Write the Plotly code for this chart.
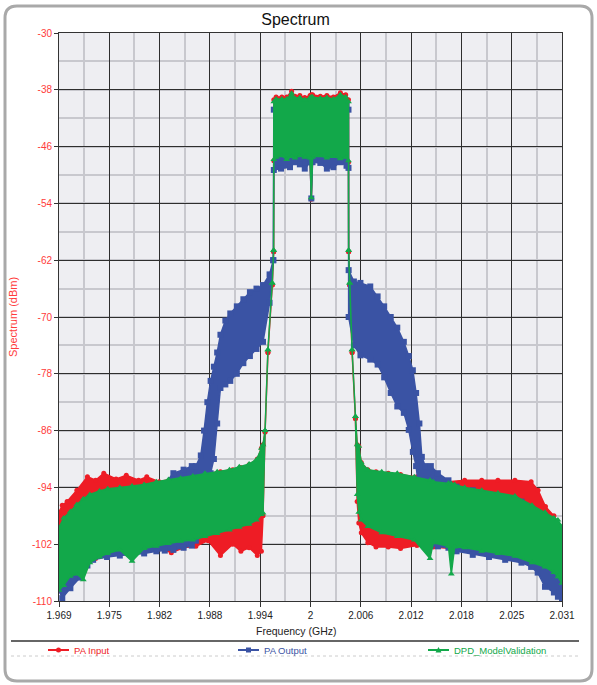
import plotly.graph_objects as go

# ---------------- data ----------------
x_tick_labels = ["1.969", "1.975", "1.982", "1.988", "1.994", "2",
                 "2.006", "2.012", "2.018", "2.025", "2.031"]
y_tick_values = [-30, -38, -46, -54, -62, -70, -78, -86, -94, -102, -110]
freq_center = 2.0          # GHz
freq_span = 0.06144        # GHz

# PA Input (red): frequency, upper envelope, lower envelope (dBm)
pa_input_freq = [1.96928, 1.96968, 1.97027, 1.97146, 1.97275, 1.97375, 1.97475, 1.97625, 1.9775, 1.9790,
                 1.9800, 1.9815, 1.9830, 1.9845, 1.9860, 1.9875, 1.9890, 1.9905, 1.9915, 1.9925,
                 1.9935, 1.9940, 1.9942, 1.99445, 1.9948, 1.99533, 1.9955, 1.99552, 1.9958, 1.9965,
                 1.9971, 1.99769, 1.9981, 1.9987, 1.9993, 1.99995, 2.0001, 2.00025, 2.0012, 2.0020,
                 2.0028, 2.00365, 2.0043, 2.00464, 2.00466, 2.00478, 2.00508, 2.00549, 2.0057, 2.0059,
                 2.0062, 2.0070, 2.0080, 2.0095, 2.0110, 2.0130, 2.0150, 2.01685, 2.01883, 2.02091,
                 2.02289, 2.02497, 2.02695, 2.0278, 2.0287, 2.02973, 2.0303, 2.03072]
pa_input_high = [-97.5, -96.5, -96.0, -94.4, -92.5, -93.0, -92.0, -92.8, -92.3, -93.0,
                 -92.5, -93.2, -92.8, -92.5, -92.3, -92.0, -91.8, -91.5, -91.2, -90.8,
                 -90.0, -88.5, -88.0, -86.2, -75.0, -65.5, -60.8, -39.4, -39.0, -39.0,
                 -39.0, -38.2, -38.9, -38.8, -39.1, -38.8, -38.7, -38.7, -38.9, -38.8,
                 -39.0, -38.4, -38.7, -39.4, -60.8, -65.5, -75.0, -84.3, -88.0, -88.2,
                 -90.5, -91.5, -91.8, -92.0, -92.2, -92.5, -93.0, -93.2, -93.0, -93.0,
                 -93.0, -93.0, -93.2, -94.4, -96.7, -98.0, -99.5, -100.0]
pa_input_low = [-107.5, -106.5, -105.5, -105.0, -104.5, -104.0, -103.5, -103.0, -103.0, -102.8,
                -102.5, -102.5, -103.2, -102.5, -102.3, -101.5, -103.6, -102.0, -103.0, -102.5,
                -103.6, -103.0, -98.0, -86.2, -75.0, -65.5, -60.8, -48.0, -47.8, -47.6,
                -48.0, -47.7, -47.9, -47.6, -47.8, -47.9, -53.4, -47.8, -47.6, -47.9,
                -47.7, -48.0, -47.8, -48.2, -60.8, -65.5, -75.0, -84.3, -96.0, -99.0,
                -100.4, -101.8, -102.4, -102.4, -102.6, -102.2, -102.4, -102.5, -102.8, -103.0,
                -103.2, -103.5, -104.0, -104.5, -105.0, -105.5, -106.0, -106.5]

# PA Output (blue)
pa_output_freq = [1.96928, 1.96968, 1.97067, 1.97185, 1.97275, 1.97345, 1.97515, 1.97671, 1.9782, 1.97968,
                  1.98117, 1.9822, 1.98325, 1.9845, 1.9855, 1.9860, 1.9866, 1.9870, 1.9874, 1.9878,
                  1.9882, 1.9886, 1.9890, 1.9896, 1.9902, 1.9910, 1.9918, 1.9926, 1.9934, 1.9942,
                  1.9950, 1.99545, 1.99552, 1.9964, 1.9975, 1.9981, 1.9987, 1.9993, 1.99995, 2.0001,
                  2.00025, 2.0012, 2.0020, 2.0028, 2.00365, 2.0044, 2.00464, 2.00466, 2.0053, 2.0061,
                  2.0073, 2.0082, 2.0090, 2.0098, 2.0106, 2.0114, 2.0120, 2.0125, 2.0129, 2.0133,
                  2.0136, 2.0140, 2.0147, 2.01556, 2.01685, 2.01784, 2.01982, 2.0218, 2.02378, 2.02577,
                  2.02695, 2.02775, 2.02864, 2.02973, 2.03022, 2.03072]
pa_output_high = [-101.0, -100.5, -99.0, -97.5, -96.5, -96.0, -95.5, -95.0, -94.5, -94.2,
                  -94.4, -93.5, -92.0, -91.5, -91.0, -91.0, -89.5, -86.0, -82.0, -79.0,
                  -77.0, -75.0, -72.5, -70.5, -69.5, -68.5, -67.5, -66.5, -66.0, -65.5,
                  -64.0, -62.0, -40.8, -40.5, -40.3, -40.2, -40.3, -40.4, -40.2, -40.2,
                  -40.2, -40.3, -40.2, -40.3, -40.0, -40.2, -40.8, -63.4, -65.0, -65.2,
                  -65.7, -67.1, -68.5, -70.0, -71.5, -73.5, -75.5, -77.5, -80.7, -85.0,
                  -89.7, -91.0, -91.0, -92.0, -93.0, -93.9, -94.4, -95.0, -95.5, -96.0,
                  -97.0, -97.5, -98.0, -99.0, -99.5, -100.0]
pa_output_low = [-108.5, -109.6, -108.2, -106.7, -105.0, -104.2, -103.8, -103.6, -103.5, -103.3,
                 -103.0, -102.9, -102.8, -102.5, -102.2, -101.5, -100.5, -98.0, -95.0, -92.0,
                 -90.0, -85.0, -80.0, -79.5, -79.0, -78.0, -76.5, -75.5, -74.5, -73.5,
                 -68.0, -62.0, -49.3, -49.1, -48.9, -48.2, -48.5, -49.1, -48.2, -53.3,
                 -48.2, -48.3, -49.1, -48.9, -48.2, -48.7, -49.0, -70.0, -74.0, -75.4,
                 -76.0, -76.7, -78.5, -80.7, -82.6, -83.5, -85.9, -89.0, -91.0, -95.0,
                 -99.0, -101.5, -102.2, -102.3, -102.5, -103.0, -103.5, -103.8, -104.2, -104.6,
                 -105.2, -106.0, -108.0, -108.8, -109.4, -109.9]

# DPD_ModelValidation (green)
dpd_freq = [1.96928, 1.96985, 1.97067, 1.97146, 1.97225, 1.97305, 1.97423, 1.97523, 1.97671, 1.9782,
            1.97968, 1.98117, 1.98265, 1.98414, 1.98563, 1.98711, 1.9886, 1.9901, 1.9913, 1.9925,
            1.9934, 1.9940, 1.9942, 1.99445, 1.9948, 1.99533, 1.9955, 1.99552, 1.9958, 1.9965,
            1.9971, 1.99769, 1.9981, 1.9987, 1.9993, 1.99995, 2.0001, 2.00025, 2.0012, 2.0020,
            2.0028, 2.00365, 2.0043, 2.00464, 2.00466, 2.00478, 2.00508, 2.00549, 2.0057, 2.0059,
            2.0062, 2.0070, 2.0087, 2.0106, 2.01268, 2.0146, 2.0150, 2.01685, 2.0172, 2.0176,
            2.01883, 2.02091, 2.02289, 2.02497, 2.02705, 2.02864, 2.02973, 2.03022, 2.03072]
dpd_high = [-99.7, -98.3, -97.4, -96.4, -95.6, -95.0, -94.5, -94.2, -94.0, -93.8,
            -93.6, -93.2, -92.9, -92.7, -92.4, -92.0, -91.8, -91.5, -91.1, -90.7,
            -90.1, -88.5, -88.0, -86.0, -74.6, -65.2, -60.6, -39.7, -39.3, -39.3,
            -39.3, -38.5, -39.2, -39.1, -39.4, -39.1, -39.0, -39.0, -39.2, -39.1,
            -39.3, -38.7, -39.0, -39.7, -60.6, -65.2, -74.6, -84.0, -88.0, -88.2,
            -90.5, -91.5, -91.8, -92.0, -92.5, -93.0, -93.2, -93.4, -93.5, -93.6,
            -94.0, -94.4, -94.8, -95.2, -96.5, -97.5, -98.3, -98.6, -99.5]
dpd_low = [-108.5, -107.8, -106.5, -106.2, -107.0, -104.6, -103.8, -103.3, -102.8, -104.4,
           -102.6, -102.3, -101.9, -101.6, -101.4, -100.9, -100.5, -100.0, -99.6, -99.2,
           -98.6, -97.8, -97.6, -86.0, -74.6, -65.2, -60.6, -47.8, -47.5, -47.3,
           -47.8, -47.4, -47.6, -47.3, -47.5, -47.6, -53.2, -47.5, -47.3, -47.6,
           -47.4, -47.7, -47.5, -48.0, -60.6, -65.2, -74.6, -84.0, -95.0, -97.5,
           -98.6, -99.5, -100.4, -100.9, -101.4, -104.0, -101.8, -102.3, -106.2, -102.4,
           -102.5, -103.0, -103.3, -103.7, -104.6, -105.2, -106.0, -106.6, -107.5]

series = [
    ("PA Input", pa_input_freq, pa_input_high, pa_input_low, "#EE1C25", "circle", 5),
    ("PA Output", pa_output_freq, pa_output_high, pa_output_low, "#3A53A4", "square", 6),
    ("DPD_ModelValidation", dpd_freq, dpd_high, dpd_low, "#12A84A", "triangle-up", 6),
]

# ---------------- figure ----------------
W, H = 597, 685
L, R, T, B = 59, 562, 33, 601          # plot area in pixels
FONT = "Liberation Sans, Arial"


def px(x):
    return (x - L) / (R - L)


def py(y):
    return (B - y) / (B - T)


fig = go.Figure()

for name, f, hi, lo, color, symbol, size in series:
    assert len(f) == len(hi) == len(lo), name
    xs = list(f) + list(f)[::-1]
    ys = list(hi) + list(lo)[::-1]
    fig.add_trace(go.Scatter(
        x=xs, y=ys, mode="lines+markers", fill="toself", fillcolor=color, name=name,
        line=dict(color=color, width=1.5),
        marker=dict(color=color, symbol=symbol, size=size),
        showlegend=False, hoverinfo="skip"))

x_lo = freq_center - freq_span / 2
x_hi = freq_center + freq_span / 2
step = freq_span / (len(x_tick_labels) - 1)
x_tick_vals = [x_lo + i * step for i in range(len(x_tick_labels))]
x_minor_vals = [v + step / 2 for v in x_tick_vals[:-1]]

fig.update_xaxes(
    range=[x_lo, x_hi], tickmode="array", tickvals=x_tick_vals, ticktext=x_tick_labels,
    showgrid=True, gridcolor="#2E2E2E", gridwidth=1, zeroline=False,
    showline=True, linecolor="#333333", linewidth=1, mirror=True,
    ticks="outside", ticklen=5, tickcolor="#333333",
    tickfont=dict(family=FONT, size=10, color="#222222"),
    minor=dict(tickmode="array", tickvals=x_minor_vals, showgrid=True,
               gridcolor="#C8C8CE", gridwidth=2, ticks=""),
)
fig.update_yaxes(
    range=[-110, -30], tickmode="array", tickvals=y_tick_values,
    ticktext=[str(v) for v in y_tick_values],
    showgrid=True, gridcolor="#2E2E2E", gridwidth=1, zeroline=False,
    showline=True, linecolor="#333333", linewidth=1, mirror=True,
    ticks="outside", ticklen=4, tickcolor="#333333",
    tickfont=dict(family=FONT, size=10, color="#FF3B3B"),
    minor=dict(tickmode="linear", tick0=-30, dtick=4, showgrid=True,
               gridcolor="#C8C8CE", gridwidth=2, ticks=""),
)

# rounded frame
fx0, fx1, fy0, fy1, rad = px(5), px(592), py(6), py(681), 12
rx, ry = rad / (R - L), rad / (B - T)
frame_path = (f"M {fx0 + rx},{fy0} L {fx1 - rx},{fy0} Q {fx1},{fy0} {fx1},{fy0 - ry} "
              f"L {fx1},{fy1 + ry} Q {fx1},{fy1} {fx1 - rx},{fy1} "
              f"L {fx0 + rx},{fy1} Q {fx0},{fy1} {fx0},{fy1 + ry} "
              f"L {fx0},{fy0 - ry} Q {fx0},{fy0} {fx0 + rx},{fy0} Z")

shapes = [
    dict(type="path", xref="paper", yref="paper", path=frame_path,
         line=dict(color="#A9A9A9", width=3), layer="below"),
    dict(type="line", xref="paper", yref="paper", x0=px(11), x1=px(579),
         y0=py(641), y1=py(641), line=dict(color="#333333", width=1.5)),
    dict(type="line", xref="paper", yref="paper", x0=px(11), x1=px(579),
         y0=py(656), y1=py(656), line=dict(color="#CCCCCC", width=1, dash="dot")),
]
annotations = [
    dict(text="Frequency (GHz)", xref="paper", yref="paper", x=px(296), y=py(631),
         xanchor="center", yanchor="middle", showarrow=False,
         font=dict(family=FONT, size=10.5, color="#222222")),
    dict(text="Spectrum (dBm)", xref="paper", yref="paper", x=px(13), y=0.5,
         xanchor="center", yanchor="middle", textangle=-90, showarrow=False,
         font=dict(family=FONT, size=11, color="#FF3B3B")),
]

# legend drawn below the separator line (line sample + marker + coloured text)
legend_x = [48, 238, 428]
ly = 650
for (name, f, hi, lo, color, symbol, size), lx in zip(series, legend_x):
    shapes.append(dict(type="line", xref="paper", yref="paper", x0=px(lx), x1=px(lx + 21),
                       y0=py(ly), y1=py(ly), line=dict(color=color, width=2)))
    cx = lx + 10.5
    if symbol == "circle":
        shapes.append(dict(type="circle", xref="paper", yref="paper",
                           x0=px(cx - 2.5), x1=px(cx + 2.5), y0=py(ly + 2.5), y1=py(ly - 2.5),
                           fillcolor=color, line=dict(color=color, width=0)))
    elif symbol == "square":
        shapes.append(dict(type="rect", xref="paper", yref="paper",
                           x0=px(cx - 2.5), x1=px(cx + 2.5), y0=py(ly + 2.5), y1=py(ly - 2.5),
                           fillcolor=color, line=dict(color=color, width=0)))
    else:
        shapes.append(dict(type="path", xref="paper", yref="paper",
                           path=f"M {px(cx - 3)},{py(ly + 2.5)} L {px(cx + 3)},{py(ly + 2.5)} "
                                f"L {px(cx)},{py(ly - 3)} Z",
                           fillcolor=color, line=dict(color=color, width=0)))
    annotations.append(dict(text=name, xref="paper", yref="paper", x=px(lx + 24), y=py(ly),
                            xanchor="left", yanchor="middle", showarrow=False,
                            font=dict(family=FONT, size=9.5, color=color)))

fig.update_layout(
    width=W, height=H, autosize=False,
    margin=dict(l=L, r=W - R, t=T, b=H - B, pad=0),
    paper_bgcolor="white", plot_bgcolor="#EEEEF2",
    font=dict(family=FONT, size=10, color="#222222"),
    title=dict(text="Spectrum", x=0.495, xanchor="center", y=1 - 19 / H, yanchor="middle",
               font=dict(family=FONT, size=16, color="#111111")),
    showlegend=False,
    shapes=shapes,
    annotations=annotations,
)

fig.write_html("out.html", config={"displayModeBar": False},
               post_script="document.body.style.margin='0px';document.body.style.overflow='hidden';")
